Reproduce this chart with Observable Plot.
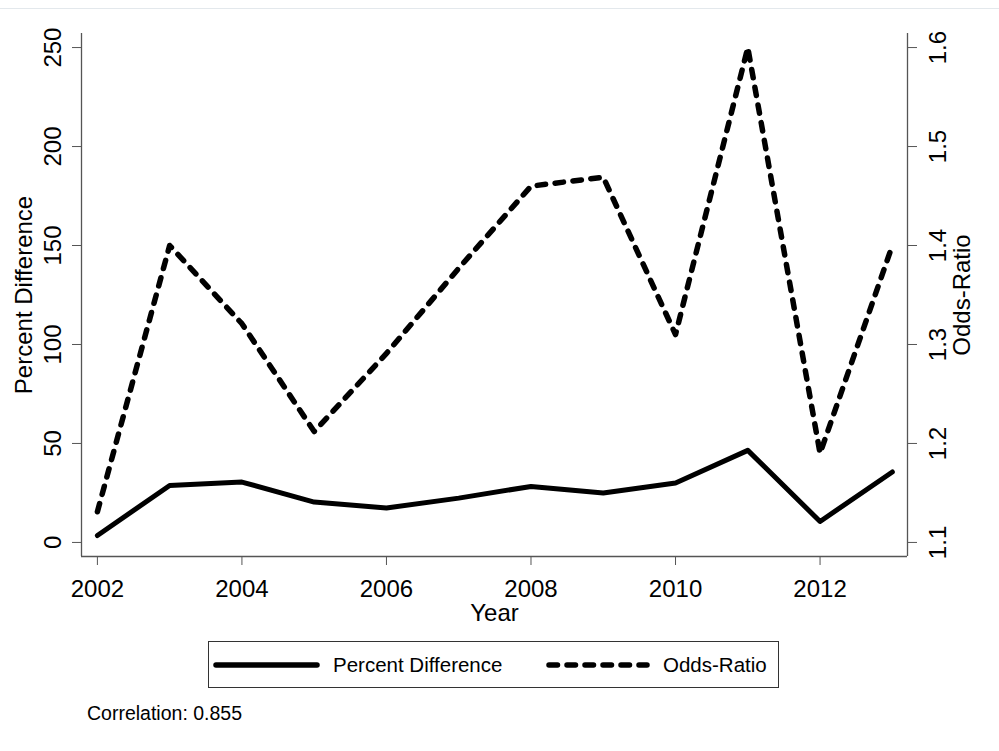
<!DOCTYPE html>
<html>
<head>
<meta charset="utf-8">
<script src="https://cdn.jsdelivr.net/npm/d3@7"></script>
<script src="https://cdn.jsdelivr.net/npm/@observablehq/plot@0.6"></script>
<style>
  body { margin: 0; background: #fff; }
  #wrap { position: relative; width: 999px; height: 751px; background: #fff; overflow: hidden;
          font-family: "Liberation Sans", Arial, sans-serif; color: #000; }
  #topline { position: absolute; left: 0; top: 8px; width: 999px; height: 1px; background: #e3e8ec; }
  #chart { position: absolute; left: 0; top: 0; }
  #legend { position: absolute; left: 208px; top: 641px; width: 571px; height: 47px;
            border: 1px solid #333; box-sizing: border-box; }
  #caption { position: absolute; left: 87px; top: 701px; font-size: 19.5px; line-height: 24px; }
</style>
</head>
<body>
<div id="wrap">
  <div id="topline"></div>
  <div id="chart"></div>
  <div id="legend"></div>
  <div id="caption"></div>
</div>
<script>
// ---- data ----
const years = [2002, 2003, 2004, 2005, 2006, 2007, 2008, 2009, 2010, 2011, 2012, 2013];
const percentDiff = [3.5, 28.8, 30.5, 20.4, 17.4, 22.4, 28.3, 25.0, 30.0, 46.5, 10.6, 35.6];
const oddsRatio = [1.131, 1.400, 1.321, 1.212, 1.291, 1.377, 1.460, 1.469, 1.310, 1.600, 1.190, 1.400];

const xTicks = [2002, 2004, 2006, 2008, 2010, 2012];
const leftTicks = [0, 50, 100, 150, 200, 250];
const rightTicks = [1.1, 1.2, 1.3, 1.4, 1.5, 1.6];

const seriesNames = ["Percent Difference", "Odds-Ratio"];
const xTitle = "Year";
const captionText = "Correlation: 0.855";

// map right-axis (odds-ratio) values onto the left scale: 1.1 -> 0, 1.6 -> 250
const orBase = 1.1, orFactor = 500;
const toLeft = v => (v - orBase) * orFactor;

const rows = years.map((y, i) => ({ year: y, pd: percentDiff[i], or: oddsRatio[i] }));

const xDomain = [2001.78, 2013.21];
const yDomain = [-7.1, 257.1];
const axisColor = "#555";

const chart = Plot.plot({
  width: 999,
  height: 625,
  marginLeft: 81,
  marginRight: 92,
  marginTop: 33,
  marginBottom: 69,
  style: { fontFamily: "'Liberation Sans', Arial, sans-serif", background: "transparent", color: "#000", overflow: "visible" },
  x: { domain: xDomain },
  y: { domain: yDomain },
  marks: [
    // axis lines (left, right, bottom)
    Plot.ruleX([xDomain[0]], { stroke: axisColor, strokeWidth: 1.3 }),
    Plot.ruleX([xDomain[1]], { stroke: axisColor, strokeWidth: 1.3 }),
    Plot.ruleY([yDomain[0]], { stroke: axisColor, strokeWidth: 1.3 }),
    Plot.axisX(xTicks, {
      anchor: "bottom", tickSize: 9, tickPadding: 14, fontSize: 24, label: null,
      tickFormat: d => String(d), stroke: axisColor, fill: "#000"
    }),
    Plot.axisY(leftTicks, {
      anchor: "left", tickSize: 9, tickPadding: 12, tickRotate: -90, lineAnchor: "bottom",
      fontSize: 24, label: null, tickFormat: d => String(d), stroke: axisColor, fill: "#000"
    }),
    Plot.axisY(rightTicks.map(toLeft), {
      anchor: "right", tickSize: 9, tickPadding: 12, tickRotate: -90, lineAnchor: "top",
      fontSize: 24, label: null, tickFormat: d => (orBase + d / orFactor).toFixed(1),
      stroke: axisColor, fill: "#000"
    }),
    // axis titles
    Plot.text([xTitle], { frameAnchor: "bottom", dy: 64, lineAnchor: "bottom", textAnchor: "middle", fontSize: 24, fill: "#000" }),
    Plot.text([seriesNames[0]], { frameAnchor: "left", dx: -50, rotate: -90, textAnchor: "middle", lineAnchor: "bottom", fontSize: 24, fill: "#000" }),
    Plot.text([seriesNames[1]], { frameAnchor: "right", dx: 45, rotate: -90, textAnchor: "middle", lineAnchor: "top", fontSize: 24, fill: "#000" }),
    // series
    Plot.line(rows, {
      x: "year", y: "pd", stroke: "#000", strokeWidth: 5,
      strokeLinejoin: "round", strokeLinecap: "round"
    }),
    Plot.line(rows, {
      x: "year", y: d => toLeft(d.or), stroke: "#000", strokeWidth: 5.5,
      strokeDasharray: "8.5,9.5", strokeLinejoin: "round", strokeLinecap: "round"
    })
  ]
});
document.getElementById("chart").appendChild(chart);

// legend
const lg = d3.select("#legend").append("svg")
  .attr("width", 569).attr("height", 45)
  .style("position", "absolute").style("left", "0px").style("top", "0px")
  .style("font-family", "'Liberation Sans', Arial, sans-serif");
const items = [
  { name: seriesNames[0], x0: 7, x1: 108, tx: 124, dash: null },
  { name: seriesNames[1], x0: 340, x1: 438, tx: 454, dash: "8.5,9.5" }
];
items.forEach(it => {
  const l = lg.append("line")
    .attr("x1", it.x0).attr("x2", it.x1).attr("y1", 23).attr("y2", 23)
    .attr("stroke", "#000").attr("stroke-width", 5.5).attr("stroke-linecap", "round");
  if (it.dash) l.attr("stroke-dasharray", it.dash);
  lg.append("text").attr("x", it.tx).attr("y", 23).attr("dy", "0.35em")
    .attr("font-size", 20.5).attr("fill", "#000").text(it.name);
});

document.getElementById("caption").textContent = captionText;
</script>
</body>
</html>
